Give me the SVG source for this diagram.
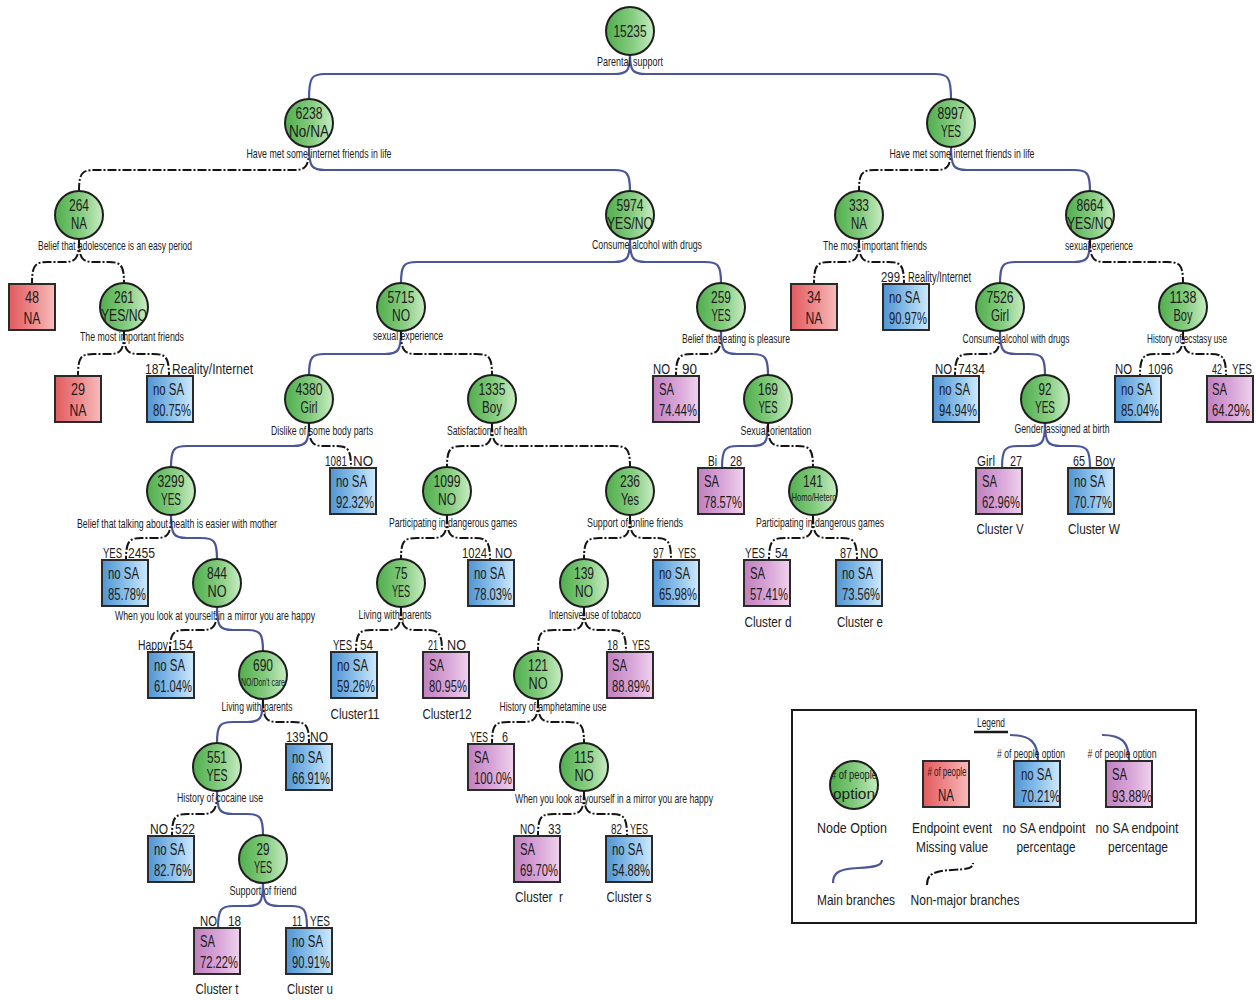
<svg xmlns="http://www.w3.org/2000/svg" width="1256" height="1000" viewBox="0 0 1256 1000">
<defs>
<linearGradient id="gG" x1="0" y1="0" x2="1" y2="0"><stop offset="0" stop-color="#4fae4c"/><stop offset="0.55" stop-color="#86cc80"/><stop offset="1" stop-color="#c9ecc4"/></linearGradient>
<linearGradient id="gB" x1="0" y1="0" x2="1" y2="0"><stop offset="0" stop-color="#4f94d4"/><stop offset="0.55" stop-color="#8fc3ec"/><stop offset="1" stop-color="#cfe9fb"/></linearGradient>
<linearGradient id="gR" x1="0" y1="0" x2="1" y2="0"><stop offset="0" stop-color="#e15b5e"/><stop offset="0.55" stop-color="#ee8d8f"/><stop offset="1" stop-color="#f7bcbc"/></linearGradient>
<linearGradient id="gP" x1="0" y1="0" x2="1" y2="0"><stop offset="0" stop-color="#c080bf"/><stop offset="0.55" stop-color="#d9a6d8"/><stop offset="1" stop-color="#efd2ee"/></linearGradient>
</defs>
<style>
text{font-family:"Liberation Sans",Arial,sans-serif;fill:#1c1c1c}
.c{fill:url(#gG);stroke:#1e1e1e;stroke-width:2}
.b{fill:url(#gB);stroke:#2a2a2a;stroke-width:2}
.r{fill:url(#gR);stroke:#2a2a2a;stroke-width:2}
.p{fill:url(#gP);stroke:#2a2a2a;stroke-width:2}
.main{fill:none;stroke:#4b5699;stroke-width:2.2}
.minor{fill:none;stroke:#141414;stroke-width:2;stroke-dasharray:9 2 2 2}
.n{font-size:16px;text-anchor:middle}
.q{font-size:13px;text-anchor:middle}
.s{font-size:16px}
.bl{font-size:15px}
.e{text-anchor:end}
.cl{font-size:15px;text-anchor:middle}
.sm{font-size:11px;text-anchor:middle}
</style>
<rect width="1256" height="1000" fill="#ffffff"/>
<g id="connectors">
<path class="main" d="M630,55 C630,71 627,74 614,74 L325,74 C312,74 309,77 309,99"/>
<path class="main" d="M630,55 C630,71 633,74 646,74 L935,74 C948,74 951,77 951,99"/>
<path class="minor" d="M309,147 C309,167 306,170 293,170 L95,170 C82,170 79,173 79,191"/>
<path class="main" d="M309,147 C309,167 312,170 325,170 L614,170 C627,170 630,173 630,191"/>
<path class="minor" d="M951,147 C951,167 948,170 935,170 L875,170 C862,170 859,173 859,191"/>
<path class="main" d="M951,147 C951,167 954,170 967,170 L1074,170 C1087,170 1090,173 1090,191"/>
<path class="minor" d="M79,239 C79,259 76,262 63,262 L48,262 C35,262 32,265 32,284"/>
<path class="minor" d="M79,239 C79,259 82,262 95,262 L108,262 C121,262 124,265 124,283"/>
<path class="main" d="M630,239 C630,259 627,262 614,262 L417,262 C404,262 401,265 401,283"/>
<path class="main" d="M630,239 C630,259 633,262 646,262 L705,262 C718,262 721,265 721,283"/>
<path class="minor" d="M859,239 C859,259 856,262 843,262 L830,262 C817,262 814,265 814,284"/>
<path class="minor" d="M859,239 C859,259 862,262 875,262 L888,262 C901,262 904,265 904,284"/>
<path class="main" d="M1090,239 C1090,259 1087,262 1074,262 L1016,262 C1003,262 1000,265 1000,283"/>
<path class="minor" d="M1090,239 C1090,259 1093,262 1106,262 L1167,262 C1180,262 1183,265 1183,283"/>
<path class="minor" d="M124,331 C124,351 121,354 108,354 L94,354 C81,354 78,357 78,376"/>
<path class="minor" d="M124,331 C124,351 127,354 140,354 L153,354 C166,354 169,357 169,376"/>
<path class="main" d="M401,331 C401,351 398,354 385,354 L325,354 C312,354 309,357 309,375"/>
<path class="minor" d="M401,331 C401,351 404,354 417,354 L476,354 C489,354 492,357 492,375"/>
<path class="minor" d="M721,331 C721,351 718,354 705,354 L692,354 C679,354 676,357 676,376"/>
<path class="main" d="M721,331 C721,351 724,354 737,354 L752,354 C765,354 768,357 768,375"/>
<path class="minor" d="M1000,331 C1000,351 997,354 984,354 L971,354 C958,354 955,357 955,376"/>
<path class="main" d="M1000,331 C1000,351 1003,354 1016,354 L1029,354 C1042,354 1045,357 1045,375"/>
<path class="minor" d="M1183,331 C1183,351 1180,354 1167,354 L1156,354 C1143,354 1140,357 1140,376"/>
<path class="minor" d="M1183,331 C1183,351 1186,354 1199,354 L1210,354 C1223,354 1226,357 1226,376"/>
<path class="main" d="M309,423 C309,443 306,446 293,446 L187,446 C174,446 171,449 171,467"/>
<path class="minor" d="M309,423 C309,443 312,446 325,446 L335,446 C348,446 351,449 351,468"/>
<path class="minor" d="M492,423 C492,443 489,446 476,446 L463,446 C450,446 447,449 447,467"/>
<path class="minor" d="M492,423 C492,443 495,446 508,446 L614,446 C627,446 630,449 630,467"/>
<path class="main" d="M768,423 C768,443 765,446 752,446 L738,446 C725,446 722,449 722,468"/>
<path class="minor" d="M768,423 C768,443 771,446 784,446 L797,446 C810,446 813,449 813,467"/>
<path class="main" d="M1045,423 C1045,443 1042,446 1029,446 L1018,446 C1005,446 1002,449 1002,468"/>
<path class="main" d="M1045,423 C1045,443 1048,446 1061,446 L1074,446 C1087,446 1090,449 1090,468"/>
<path class="minor" d="M171,515 C171,535 168,538 155,538 L142,538 C129,538 126,541 126,560"/>
<path class="main" d="M171,515 C171,535 174,538 187,538 L201,538 C214,538 217,541 217,559"/>
<path class="minor" d="M447,515 C447,535 444,538 431,538 L417,538 C404,538 401,541 401,559"/>
<path class="minor" d="M447,515 C447,535 450,538 463,538 L474,538 C487,538 490,541 490,560"/>
<path class="minor" d="M630,515 C630,535 627,538 614,538 L600,538 C587,538 584,541 584,559"/>
<path class="minor" d="M630,515 C630,535 633,538 646,538 L655,538 C668,538 671,541 671,560"/>
<path class="minor" d="M813,515 C813,535 810,538 797,538 L785,538 C772,538 769,541 769,560"/>
<path class="minor" d="M813,515 C813,535 816,538 829,538 L841,538 C854,538 857,541 857,560"/>
<path class="minor" d="M217,607 C217,627 214,630 201,630 L186,630 C173,630 170,633 170,652"/>
<path class="main" d="M217,607 C217,627 220,630 233,630 L247,630 C260,630 263,633 263,651"/>
<path class="minor" d="M401,607 C401,627 398,630 385,630 L372,630 C359,630 356,633 356,652"/>
<path class="minor" d="M401,607 C401,627 404,630 417,630 L426,630 C439,630 442,633 442,652"/>
<path class="minor" d="M584,607 C584,627 581,630 568,630 L554,630 C541,630 538,633 538,651"/>
<path class="minor" d="M584,607 C584,627 587,630 600,630 L610,630 C623,630 626,633 626,652"/>
<path class="main" d="M263,699 C263,719 260,722 247,722 L233,722 C220,722 217,725 217,743"/>
<path class="minor" d="M263,699 C263,719 266,722 279,722 L293,722 C306,722 309,725 309,744"/>
<path class="minor" d="M538,699 C538,719 535,722 522,722 L508,722 C495,722 492,725 492,744"/>
<path class="minor" d="M538,699 C538,719 541,722 554,722 L568,722 C581,722 584,725 584,743"/>
<path class="minor" d="M217,791 C217,811 214,814 201,814 L188,814 C175,814 172,817 172,836"/>
<path class="main" d="M217,791 C217,811 220,814 233,814 L247,814 C260,814 263,817 263,835"/>
<path class="minor" d="M584,791 C584,811 581,814 568,814 L554,814 C541,814 538,817 538,836"/>
<path class="minor" d="M584,791 C584,811 587,814 600,814 L611,814 C624,814 627,817 627,836"/>
<path class="main" d="M263,883 C263,903 260,906 247,906 L234,906 C221,906 218,909 218,928"/>
<path class="main" d="M263,883 C263,903 266,906 279,906 L291,906 C304,906 307,909 307,928"/>
</g>

<g id="n15235"><circle class="c" cx="630" cy="31" r="24"/><text class="n" x="630" y="37" textLength="33" lengthAdjust="spacingAndGlyphs">15235</text><text class="q" x="630" y="66" textLength="66" lengthAdjust="spacingAndGlyphs">Parental support</text></g>
<g id="n6238"><circle class="c" cx="309" cy="123" r="24"/><text class="n" x="309" y="119" textLength="27" lengthAdjust="spacingAndGlyphs">6238</text><text class="n" x="309" y="137" textLength="40" lengthAdjust="spacingAndGlyphs">No/NA</text><text class="q" x="319" y="158" textLength="145" lengthAdjust="spacingAndGlyphs">Have met some internet friends in life</text></g>
<g id="n8997"><circle class="c" cx="951" cy="123" r="24"/><text class="n" x="951" y="119" textLength="27" lengthAdjust="spacingAndGlyphs">8997</text><text class="n" x="951" y="137" textLength="20" lengthAdjust="spacingAndGlyphs">YES</text><text class="q" x="962" y="158" textLength="145" lengthAdjust="spacingAndGlyphs">Have met some internet friends in life</text></g>
<g id="n264"><circle class="c" cx="79" cy="215" r="24"/><text class="n" x="79" y="211" textLength="20" lengthAdjust="spacingAndGlyphs">264</text><text class="n" x="79" y="229" textLength="16" lengthAdjust="spacingAndGlyphs">NA</text><text class="q" x="115" y="250" textLength="154" lengthAdjust="spacingAndGlyphs">Belief that adolescence is an easy period</text></g>
<g id="n5974"><circle class="c" cx="630" cy="215" r="24"/><text class="n" x="630" y="211" textLength="27" lengthAdjust="spacingAndGlyphs">5974</text><text class="n" x="630" y="229" textLength="46" lengthAdjust="spacingAndGlyphs">YES/NO</text><text class="q" x="647" y="249" textLength="110" lengthAdjust="spacingAndGlyphs">Consume alcohol with drugs</text></g>
<g id="n333"><circle class="c" cx="859" cy="215" r="24"/><text class="n" x="859" y="211" textLength="20" lengthAdjust="spacingAndGlyphs">333</text><text class="n" x="859" y="229" textLength="16" lengthAdjust="spacingAndGlyphs">NA</text><text class="q" x="875" y="250" textLength="104" lengthAdjust="spacingAndGlyphs">The most important friends</text></g>
<g id="n8664"><circle class="c" cx="1090" cy="215" r="24"/><text class="n" x="1090" y="211" textLength="27" lengthAdjust="spacingAndGlyphs">8664</text><text class="n" x="1090" y="229" textLength="46" lengthAdjust="spacingAndGlyphs">YES/NO</text><text class="q" x="1099" y="250" textLength="68" lengthAdjust="spacingAndGlyphs">sexual experience</text></g>
<g id="n261"><circle class="c" cx="124" cy="307" r="24"/><text class="n" x="124" y="303" textLength="20" lengthAdjust="spacingAndGlyphs">261</text><text class="n" x="124" y="321" textLength="46" lengthAdjust="spacingAndGlyphs">YES/NO</text><text class="q" x="132" y="341" textLength="104" lengthAdjust="spacingAndGlyphs">The most important friends</text></g>
<g id="n5715"><circle class="c" cx="401" cy="307" r="24"/><text class="n" x="401" y="303" textLength="27" lengthAdjust="spacingAndGlyphs">5715</text><text class="n" x="401" y="321" textLength="18" lengthAdjust="spacingAndGlyphs">NO</text><text class="q" x="408" y="340" textLength="70" lengthAdjust="spacingAndGlyphs">sexual experience</text></g>
<g id="n259"><circle class="c" cx="721" cy="307" r="24"/><text class="n" x="721" y="303" textLength="20" lengthAdjust="spacingAndGlyphs">259</text><text class="n" x="721" y="321" textLength="19" lengthAdjust="spacingAndGlyphs">YES</text><text class="q" x="736" y="343" textLength="108" lengthAdjust="spacingAndGlyphs">Belief that eating is pleasure</text></g>
<g id="n7526"><circle class="c" cx="1000" cy="307" r="24"/><text class="n" x="1000" y="303" textLength="27" lengthAdjust="spacingAndGlyphs">7526</text><text class="n" x="1000" y="321" textLength="18" lengthAdjust="spacingAndGlyphs">Girl</text><text class="q" x="1016" y="343" textLength="107" lengthAdjust="spacingAndGlyphs">Consume alcohol with drugs</text></g>
<g id="n1138"><circle class="c" cx="1183" cy="307" r="24"/><text class="n" x="1183" y="303" textLength="27" lengthAdjust="spacingAndGlyphs">1138</text><text class="n" x="1183" y="321" textLength="19" lengthAdjust="spacingAndGlyphs">Boy</text><text class="q" x="1187" y="343" textLength="80" lengthAdjust="spacingAndGlyphs">History of ecstasy use</text></g>
<g id="n4380"><circle class="c" cx="309" cy="399" r="24"/><text class="n" x="309" y="395" textLength="27" lengthAdjust="spacingAndGlyphs">4380</text><text class="n" x="309" y="413" textLength="17" lengthAdjust="spacingAndGlyphs">Girl</text><text class="q" x="322" y="435" textLength="102" lengthAdjust="spacingAndGlyphs">Dislike of some body parts</text></g>
<g id="n1335"><circle class="c" cx="492" cy="399" r="24"/><text class="n" x="492" y="395" textLength="27" lengthAdjust="spacingAndGlyphs">1335</text><text class="n" x="492" y="413" textLength="20" lengthAdjust="spacingAndGlyphs">Boy</text><text class="q" x="487" y="435" textLength="80" lengthAdjust="spacingAndGlyphs">Satisfaction of health</text></g>
<g id="n169"><circle class="c" cx="768" cy="399" r="24"/><text class="n" x="768" y="395" textLength="20" lengthAdjust="spacingAndGlyphs">169</text><text class="n" x="768" y="413" textLength="19" lengthAdjust="spacingAndGlyphs">YES</text><text class="q" x="776" y="435" textLength="71" lengthAdjust="spacingAndGlyphs">Sexual orientation</text></g>
<g id="n92"><circle class="c" cx="1045" cy="399" r="24"/><text class="n" x="1045" y="395" textLength="13" lengthAdjust="spacingAndGlyphs">92</text><text class="n" x="1045" y="413" textLength="20" lengthAdjust="spacingAndGlyphs">YES</text><text class="q" x="1062" y="433" textLength="95" lengthAdjust="spacingAndGlyphs">Gender assigned at birth</text></g>
<g id="n3299"><circle class="c" cx="171" cy="491" r="24"/><text class="n" x="171" y="487" textLength="27" lengthAdjust="spacingAndGlyphs">3299</text><text class="n" x="171" y="505" textLength="20" lengthAdjust="spacingAndGlyphs">YES</text><text class="q" x="177" y="528" textLength="200" lengthAdjust="spacingAndGlyphs">Belief that talking about health is easier with mother</text></g>
<g id="n1099"><circle class="c" cx="447" cy="491" r="24"/><text class="n" x="447" y="487" textLength="27" lengthAdjust="spacingAndGlyphs">1099</text><text class="n" x="447" y="505" textLength="18" lengthAdjust="spacingAndGlyphs">NO</text><text class="q" x="453" y="527" textLength="128" lengthAdjust="spacingAndGlyphs">Participating in dangerous games</text></g>
<g id="n236"><circle class="c" cx="630" cy="491" r="24"/><text class="n" x="630" y="487" textLength="20" lengthAdjust="spacingAndGlyphs">236</text><text class="n" x="630" y="505" textLength="18" lengthAdjust="spacingAndGlyphs">Yes</text><text class="q" x="635" y="527" textLength="96" lengthAdjust="spacingAndGlyphs">Support of online friends</text></g>
<g id="n141"><circle class="c" cx="813" cy="491" r="24"/><text class="n" x="813" y="487" textLength="20" lengthAdjust="spacingAndGlyphs">141</text><text class="sm" x="814" y="501" textLength="45" lengthAdjust="spacingAndGlyphs">Homo/Hetero</text><text class="q" x="820" y="527" textLength="128" lengthAdjust="spacingAndGlyphs">Participating in dangerous games</text></g>
<g id="n844"><circle class="c" cx="217" cy="583" r="24"/><text class="n" x="217" y="579" textLength="20" lengthAdjust="spacingAndGlyphs">844</text><text class="n" x="217" y="597" textLength="19" lengthAdjust="spacingAndGlyphs">NO</text><text class="q" x="215" y="620" textLength="200" lengthAdjust="spacingAndGlyphs">When you look at yourself in a mirror you are happy</text></g>
<g id="n75"><circle class="c" cx="401" cy="583" r="24"/><text class="n" x="401" y="579" textLength="13" lengthAdjust="spacingAndGlyphs">75</text><text class="n" x="401" y="597" textLength="18" lengthAdjust="spacingAndGlyphs">YES</text><text class="q" x="395" y="619" textLength="73" lengthAdjust="spacingAndGlyphs">Living with parents</text></g>
<g id="n139"><circle class="c" cx="584" cy="583" r="24"/><text class="n" x="584" y="579" textLength="20" lengthAdjust="spacingAndGlyphs">139</text><text class="n" x="584" y="597" textLength="18" lengthAdjust="spacingAndGlyphs">NO</text><text class="q" x="595" y="619" textLength="92" lengthAdjust="spacingAndGlyphs">Intensive use of tobacco</text></g>
<g id="n690"><circle class="c" cx="263" cy="675" r="24"/><text class="n" x="263" y="671" textLength="20" lengthAdjust="spacingAndGlyphs">690</text><text class="sm" x="263" y="686" textLength="44" lengthAdjust="spacingAndGlyphs" style="font-size:10px">NO/Don't care</text><text class="q" x="257" y="711" textLength="71" lengthAdjust="spacingAndGlyphs">Living with parents</text></g>
<g id="n121"><circle class="c" cx="538" cy="675" r="24"/><text class="n" x="538" y="671" textLength="20" lengthAdjust="spacingAndGlyphs">121</text><text class="n" x="538" y="689" textLength="19" lengthAdjust="spacingAndGlyphs">NO</text><text class="q" x="553" y="711" textLength="107" lengthAdjust="spacingAndGlyphs">History of amphetamine use</text></g>
<g id="n551"><circle class="c" cx="217" cy="767" r="24"/><text class="n" x="217" y="763" textLength="20" lengthAdjust="spacingAndGlyphs">551</text><text class="n" x="217" y="781" textLength="21" lengthAdjust="spacingAndGlyphs">YES</text><text class="q" x="220" y="802" textLength="86" lengthAdjust="spacingAndGlyphs">History of cocaine use</text></g>
<g id="n115"><circle class="c" cx="584" cy="767" r="24"/><text class="n" x="584" y="763" textLength="20" lengthAdjust="spacingAndGlyphs">115</text><text class="n" x="584" y="781" textLength="19" lengthAdjust="spacingAndGlyphs">NO</text><text class="q" x="614" y="803" textLength="198" lengthAdjust="spacingAndGlyphs">When you look at yourself in a mirror you are happy</text></g>
<g id="n29"><circle class="c" cx="263" cy="859" r="24"/><text class="n" x="263" y="855" textLength="13" lengthAdjust="spacingAndGlyphs">29</text><text class="n" x="263" y="873" textLength="18" lengthAdjust="spacingAndGlyphs">YES</text><text class="q" x="263" y="895" textLength="67" lengthAdjust="spacingAndGlyphs">Support of friend</text></g>

<g id="e48"><rect class="r" x="9" y="284" width="46" height="46"/><text class="n" x="32" y="303" textLength="14" lengthAdjust="spacingAndGlyphs">48</text><text class="n" x="32" y="324" textLength="17" lengthAdjust="spacingAndGlyphs">NA</text></g>
<g id="e34"><rect class="r" x="791" y="284" width="46" height="46"/><text class="n" x="814" y="303" textLength="14" lengthAdjust="spacingAndGlyphs">34</text><text class="n" x="814" y="324" textLength="17" lengthAdjust="spacingAndGlyphs">NA</text></g>
<g id="e299"><rect class="b" x="883" y="284" width="46" height="46"/><text class="s" x="889" y="303" textLength="31" lengthAdjust="spacingAndGlyphs">no SA</text><text class="s" x="889" y="324" textLength="38" lengthAdjust="spacingAndGlyphs">90.97%</text><text class="bl e" x="900" y="282" textLength="19" lengthAdjust="spacingAndGlyphs">299</text><text class="bl" x="908" y="282" textLength="63" lengthAdjust="spacingAndGlyphs">Reality/Internet</text></g>
<g id="e29"><rect class="r" x="55" y="376" width="46" height="46"/><text class="n" x="78" y="395" textLength="14" lengthAdjust="spacingAndGlyphs">29</text><text class="n" x="78" y="416" textLength="17" lengthAdjust="spacingAndGlyphs">NA</text></g>
<g id="e187"><rect class="b" x="147" y="376" width="46" height="46"/><text class="s" x="153" y="395" textLength="31" lengthAdjust="spacingAndGlyphs">no SA</text><text class="s" x="153" y="416" textLength="38" lengthAdjust="spacingAndGlyphs">80.75%</text><text class="bl e" x="165" y="374" textLength="20" lengthAdjust="spacingAndGlyphs">187</text><text class="bl" x="172" y="374" textLength="81" lengthAdjust="spacingAndGlyphs">Reality/Internet</text></g>
<g id="e90"><rect class="p" x="653" y="376" width="46" height="46"/><text class="s" x="659" y="395" textLength="15" lengthAdjust="spacingAndGlyphs">SA</text><text class="s" x="659" y="416" textLength="38" lengthAdjust="spacingAndGlyphs">74.44%</text><text class="bl e" x="670" y="374" textLength="17" lengthAdjust="spacingAndGlyphs">NO</text><text class="bl" x="682" y="374" textLength="15" lengthAdjust="spacingAndGlyphs">90</text></g>
<g id="e7434"><rect class="b" x="933" y="376" width="46" height="46"/><text class="s" x="939" y="395" textLength="31" lengthAdjust="spacingAndGlyphs">no SA</text><text class="s" x="939" y="416" textLength="38" lengthAdjust="spacingAndGlyphs">94.94%</text><text class="bl e" x="952" y="374" textLength="17" lengthAdjust="spacingAndGlyphs">NO</text><text class="bl" x="958" y="374" textLength="27" lengthAdjust="spacingAndGlyphs">7434</text></g>
<g id="e1096"><rect class="b" x="1115" y="376" width="46" height="46"/><text class="s" x="1121" y="395" textLength="31" lengthAdjust="spacingAndGlyphs">no SA</text><text class="s" x="1121" y="416" textLength="38" lengthAdjust="spacingAndGlyphs">85.04%</text><text class="bl e" x="1132" y="374" textLength="17" lengthAdjust="spacingAndGlyphs">NO</text><text class="bl" x="1148" y="374" textLength="25" lengthAdjust="spacingAndGlyphs">1096</text></g>
<g id="e42"><rect class="p" x="1207" y="376" width="46" height="46"/><text class="s" x="1212" y="395" textLength="15" lengthAdjust="spacingAndGlyphs">SA</text><text class="s" x="1212" y="416" textLength="38" lengthAdjust="spacingAndGlyphs">64.29%</text><text class="bl e" x="1222" y="374" textLength="10" lengthAdjust="spacingAndGlyphs">42</text><text class="bl" x="1232" y="374" textLength="20" lengthAdjust="spacingAndGlyphs">YES</text></g>
<g id="e1081"><rect class="b" x="330" y="468" width="46" height="46"/><text class="s" x="336" y="487" textLength="31" lengthAdjust="spacingAndGlyphs">no SA</text><text class="s" x="336" y="508" textLength="38" lengthAdjust="spacingAndGlyphs">92.32%</text><text class="bl e" x="347" y="466" textLength="22" lengthAdjust="spacingAndGlyphs">1081</text><text class="bl" x="353" y="466" textLength="20" lengthAdjust="spacingAndGlyphs">NO</text></g>
<g id="e28"><rect class="p" x="698" y="468" width="46" height="46"/><text class="s" x="704" y="487" textLength="15" lengthAdjust="spacingAndGlyphs">SA</text><text class="s" x="704" y="508" textLength="38" lengthAdjust="spacingAndGlyphs">78.57%</text><text class="bl e" x="717" y="466" textLength="9" lengthAdjust="spacingAndGlyphs">Bi</text><text class="bl" x="730" y="466" textLength="12" lengthAdjust="spacingAndGlyphs">28</text></g>
<g id="e27"><rect class="p" x="976" y="468" width="46" height="46"/><text class="s" x="982" y="487" textLength="15" lengthAdjust="spacingAndGlyphs">SA</text><text class="s" x="982" y="508" textLength="38" lengthAdjust="spacingAndGlyphs">62.96%</text><text class="bl e" x="995" y="466" textLength="18" lengthAdjust="spacingAndGlyphs">Girl</text><text class="bl" x="1010" y="466" textLength="12" lengthAdjust="spacingAndGlyphs">27</text><text class="cl" x="1000" y="534" textLength="47" lengthAdjust="spacingAndGlyphs">Cluster V</text></g>
<g id="e65"><rect class="b" x="1068" y="468" width="46" height="46"/><text class="s" x="1074" y="487" textLength="31" lengthAdjust="spacingAndGlyphs">no SA</text><text class="s" x="1074" y="508" textLength="38" lengthAdjust="spacingAndGlyphs">70.77%</text><text class="bl e" x="1085" y="466" textLength="12" lengthAdjust="spacingAndGlyphs">65</text><text class="bl" x="1095" y="466" textLength="20" lengthAdjust="spacingAndGlyphs">Boy</text><text class="cl" x="1094" y="534" textLength="52" lengthAdjust="spacingAndGlyphs">Cluster W</text></g>
<g id="e2455"><rect class="b" x="102" y="560" width="46" height="46"/><text class="s" x="108" y="579" textLength="31" lengthAdjust="spacingAndGlyphs">no SA</text><text class="s" x="108" y="600" textLength="38" lengthAdjust="spacingAndGlyphs">85.78%</text><text class="bl e" x="122" y="558" textLength="19" lengthAdjust="spacingAndGlyphs">YES</text><text class="bl" x="128" y="558" textLength="27" lengthAdjust="spacingAndGlyphs">2455</text></g>
<g id="e1024"><rect class="b" x="468" y="560" width="46" height="46"/><text class="s" x="474" y="579" textLength="31" lengthAdjust="spacingAndGlyphs">no SA</text><text class="s" x="474" y="600" textLength="38" lengthAdjust="spacingAndGlyphs">78.03%</text><text class="bl e" x="487" y="558" textLength="25" lengthAdjust="spacingAndGlyphs">1024</text><text class="bl" x="495" y="558" textLength="17" lengthAdjust="spacingAndGlyphs">NO</text></g>
<g id="e97"><rect class="b" x="653" y="560" width="46" height="46"/><text class="s" x="659" y="579" textLength="31" lengthAdjust="spacingAndGlyphs">no SA</text><text class="s" x="659" y="600" textLength="38" lengthAdjust="spacingAndGlyphs">65.98%</text><text class="bl e" x="664" y="558" textLength="11" lengthAdjust="spacingAndGlyphs">97</text><text class="bl" x="678" y="558" textLength="18" lengthAdjust="spacingAndGlyphs">YES</text></g>
<g id="e54d"><rect class="p" x="744" y="560" width="46" height="46"/><text class="s" x="750" y="579" textLength="15" lengthAdjust="spacingAndGlyphs">SA</text><text class="s" x="750" y="600" textLength="38" lengthAdjust="spacingAndGlyphs">57.41%</text><text class="bl e" x="765" y="558" textLength="20" lengthAdjust="spacingAndGlyphs">YES</text><text class="bl" x="775" y="558" textLength="13" lengthAdjust="spacingAndGlyphs">54</text><text class="cl" x="768" y="627" textLength="47" lengthAdjust="spacingAndGlyphs">Cluster d</text></g>
<g id="e87"><rect class="b" x="836" y="560" width="46" height="46"/><text class="s" x="842" y="579" textLength="31" lengthAdjust="spacingAndGlyphs">no SA</text><text class="s" x="842" y="600" textLength="38" lengthAdjust="spacingAndGlyphs">73.56%</text><text class="bl e" x="852" y="558" textLength="12" lengthAdjust="spacingAndGlyphs">87</text><text class="bl" x="860" y="558" textLength="18" lengthAdjust="spacingAndGlyphs">NO</text><text class="cl" x="860" y="627" textLength="46" lengthAdjust="spacingAndGlyphs">Cluster e</text></g>
<g id="e154"><rect class="b" x="148" y="652" width="46" height="46"/><text class="s" x="154" y="671" textLength="31" lengthAdjust="spacingAndGlyphs">no SA</text><text class="s" x="154" y="692" textLength="38" lengthAdjust="spacingAndGlyphs">61.04%</text><text class="bl e" x="168" y="650" textLength="30" lengthAdjust="spacingAndGlyphs">Happy</text><text class="bl" x="172" y="650" textLength="21" lengthAdjust="spacingAndGlyphs">154</text></g>
<g id="e54c"><rect class="b" x="331" y="652" width="46" height="46"/><text class="s" x="337" y="671" textLength="31" lengthAdjust="spacingAndGlyphs">no SA</text><text class="s" x="337" y="692" textLength="38" lengthAdjust="spacingAndGlyphs">59.26%</text><text class="bl e" x="352" y="650" textLength="19" lengthAdjust="spacingAndGlyphs">YES</text><text class="bl" x="360" y="650" textLength="13" lengthAdjust="spacingAndGlyphs">54</text><text class="cl" x="355" y="719" textLength="49" lengthAdjust="spacingAndGlyphs">Cluster11</text></g>
<g id="e21"><rect class="p" x="423" y="652" width="46" height="46"/><text class="s" x="429" y="671" textLength="15" lengthAdjust="spacingAndGlyphs">SA</text><text class="s" x="429" y="692" textLength="38" lengthAdjust="spacingAndGlyphs">80.95%</text><text class="bl e" x="438" y="650" textLength="10" lengthAdjust="spacingAndGlyphs">21</text><text class="bl" x="447" y="650" textLength="19" lengthAdjust="spacingAndGlyphs">NO</text><text class="cl" x="447" y="719" textLength="49" lengthAdjust="spacingAndGlyphs">Cluster12</text></g>
<g id="e18y"><rect class="p" x="607" y="652" width="46" height="46"/><text class="s" x="612" y="671" textLength="15" lengthAdjust="spacingAndGlyphs">SA</text><text class="s" x="612" y="692" textLength="38" lengthAdjust="spacingAndGlyphs">88.89%</text><text class="bl e" x="618" y="650" textLength="11" lengthAdjust="spacingAndGlyphs">18</text><text class="bl" x="632" y="650" textLength="18" lengthAdjust="spacingAndGlyphs">YES</text></g>
<g id="e139"><rect class="b" x="286" y="744" width="46" height="46"/><text class="s" x="292" y="763" textLength="31" lengthAdjust="spacingAndGlyphs">no SA</text><text class="s" x="292" y="784" textLength="38" lengthAdjust="spacingAndGlyphs">66.91%</text><text class="bl e" x="305" y="742" textLength="19" lengthAdjust="spacingAndGlyphs">139</text><text class="bl" x="310" y="742" textLength="18" lengthAdjust="spacingAndGlyphs">NO</text></g>
<g id="e6"><rect class="p" x="468" y="744" width="46" height="46"/><text class="s" x="474" y="763" textLength="15" lengthAdjust="spacingAndGlyphs">SA</text><text class="s" x="474" y="784" textLength="38" lengthAdjust="spacingAndGlyphs">100.0%</text><text class="bl e" x="488" y="742" textLength="18" lengthAdjust="spacingAndGlyphs">YES</text><text class="bl" x="502" y="742" textLength="6" lengthAdjust="spacingAndGlyphs">6</text></g>
<g id="e522"><rect class="b" x="148" y="836" width="46" height="46"/><text class="s" x="154" y="855" textLength="31" lengthAdjust="spacingAndGlyphs">no SA</text><text class="s" x="154" y="876" textLength="38" lengthAdjust="spacingAndGlyphs">82.76%</text><text class="bl e" x="168" y="834" textLength="18" lengthAdjust="spacingAndGlyphs">NO</text><text class="bl" x="175" y="834" textLength="20" lengthAdjust="spacingAndGlyphs">522</text></g>
<g id="e33"><rect class="p" x="514" y="836" width="46" height="46"/><text class="s" x="520" y="855" textLength="15" lengthAdjust="spacingAndGlyphs">SA</text><text class="s" x="520" y="876" textLength="38" lengthAdjust="spacingAndGlyphs">69.70%</text><text class="bl e" x="535" y="834" textLength="15" lengthAdjust="spacingAndGlyphs">NO</text><text class="bl" x="548" y="834" textLength="13" lengthAdjust="spacingAndGlyphs">33</text><text class="cl" x="539" y="902" textLength="48" lengthAdjust="spacingAndGlyphs" xml:space="preserve">Cluster  r</text></g>
<g id="e82"><rect class="b" x="606" y="836" width="46" height="46"/><text class="s" x="612" y="855" textLength="31" lengthAdjust="spacingAndGlyphs">no SA</text><text class="s" x="612" y="876" textLength="38" lengthAdjust="spacingAndGlyphs">54.88%</text><text class="bl e" x="622" y="834" textLength="11" lengthAdjust="spacingAndGlyphs">82</text><text class="bl" x="630" y="834" textLength="18" lengthAdjust="spacingAndGlyphs">YES</text><text class="cl" x="629" y="902" textLength="45" lengthAdjust="spacingAndGlyphs">Cluster s</text></g>
<g id="e18n"><rect class="p" x="194" y="928" width="46" height="46"/><text class="s" x="200" y="947" textLength="15" lengthAdjust="spacingAndGlyphs">SA</text><text class="s" x="200" y="968" textLength="38" lengthAdjust="spacingAndGlyphs">72.22%</text><text class="bl e" x="217" y="926" textLength="17" lengthAdjust="spacingAndGlyphs">NO</text><text class="bl" x="228" y="926" textLength="13" lengthAdjust="spacingAndGlyphs">18</text><text class="cl" x="217" y="994" textLength="43" lengthAdjust="spacingAndGlyphs">Cluster t</text></g>
<g id="e11"><rect class="b" x="286" y="928" width="46" height="46"/><text class="s" x="292" y="947" textLength="31" lengthAdjust="spacingAndGlyphs">no SA</text><text class="s" x="292" y="968" textLength="38" lengthAdjust="spacingAndGlyphs">90.91%</text><text class="bl e" x="302" y="926" textLength="10" lengthAdjust="spacingAndGlyphs">11</text><text class="bl" x="310" y="926" textLength="20" lengthAdjust="spacingAndGlyphs">YES</text><text class="cl" x="310" y="994" textLength="46" lengthAdjust="spacingAndGlyphs">Cluster u</text></g>

<g id="legend">
<rect x="792" y="710" width="404" height="213" fill="none" stroke="#1a1a1a" stroke-width="2"/>
<text x="991" y="727" style="font-size:13px;text-anchor:middle" textLength="28" lengthAdjust="spacingAndGlyphs">Legend</text>
<line x1="974" y1="732" x2="1008" y2="732" stroke="#1a1a1a" stroke-width="2.5"/>
<circle class="c" cx="854" cy="785" r="24"/>
<text x="854" y="779" style="font-size:13px;text-anchor:middle" textLength="46" lengthAdjust="spacingAndGlyphs"># of people</text>
<text class="n" x="854" y="799" style="font-size:15px" textLength="42" lengthAdjust="spacingAndGlyphs">option</text>
<rect class="r" x="923" y="761" width="46" height="46"/>
<text x="947" y="776" style="font-size:12px;text-anchor:middle" textLength="39" lengthAdjust="spacingAndGlyphs"># of people</text>
<text class="n" x="946" y="801" textLength="16" lengthAdjust="spacingAndGlyphs">NA</text>
<path class="main" d="M1010,735 C1030,735 1038,742 1038,761"/>
<text x="1031" y="758" style="font-size:12px;text-anchor:middle" textLength="68" lengthAdjust="spacingAndGlyphs"># of people option</text>
<rect class="b" x="1014" y="761" width="46" height="46"/>
<text class="s" x="1021" y="780" textLength="31" lengthAdjust="spacingAndGlyphs">no SA</text>
<text class="s" x="1021" y="802" textLength="39" lengthAdjust="spacingAndGlyphs">70.21%</text>
<path class="main" d="M1102,735 C1122,735 1129,742 1129,761"/>
<text x="1122" y="758" style="font-size:12px;text-anchor:middle" textLength="69" lengthAdjust="spacingAndGlyphs"># of people option</text>
<rect class="p" x="1106" y="761" width="46" height="46"/>
<text class="s" x="1112" y="780" textLength="15" lengthAdjust="spacingAndGlyphs">SA</text>
<text class="s" x="1112" y="802" textLength="40" lengthAdjust="spacingAndGlyphs">93.88%</text>
<text class="cl" x="852" y="833" textLength="70" lengthAdjust="spacingAndGlyphs">Node Option</text>
<text class="cl" x="952" y="833" textLength="80" lengthAdjust="spacingAndGlyphs">Endpoint event</text>
<text class="cl" x="952" y="852" textLength="72" lengthAdjust="spacingAndGlyphs">Missing value</text>
<text class="cl" x="1044" y="833" textLength="83" lengthAdjust="spacingAndGlyphs">no SA endpoint</text>
<text class="cl" x="1046" y="852" textLength="59" lengthAdjust="spacingAndGlyphs">percentage</text>
<text class="cl" x="1137" y="833" textLength="83" lengthAdjust="spacingAndGlyphs">no SA endpoint</text>
<text class="cl" x="1138" y="852" textLength="60" lengthAdjust="spacingAndGlyphs">percentage</text>
<path class="main" d="M833,883 C833,872 840,869 858,868 C874,867 882,866 882,860"/>
<path class="minor" d="M927,885 C927,874 934,871 952,870 C966,869 973,869 973,863"/>
<text class="cl" x="856" y="905" textLength="78" lengthAdjust="spacingAndGlyphs">Main branches</text>
<text class="cl" x="965" y="905" textLength="109" lengthAdjust="spacingAndGlyphs">Non-major branches</text>
</g>
</svg>
